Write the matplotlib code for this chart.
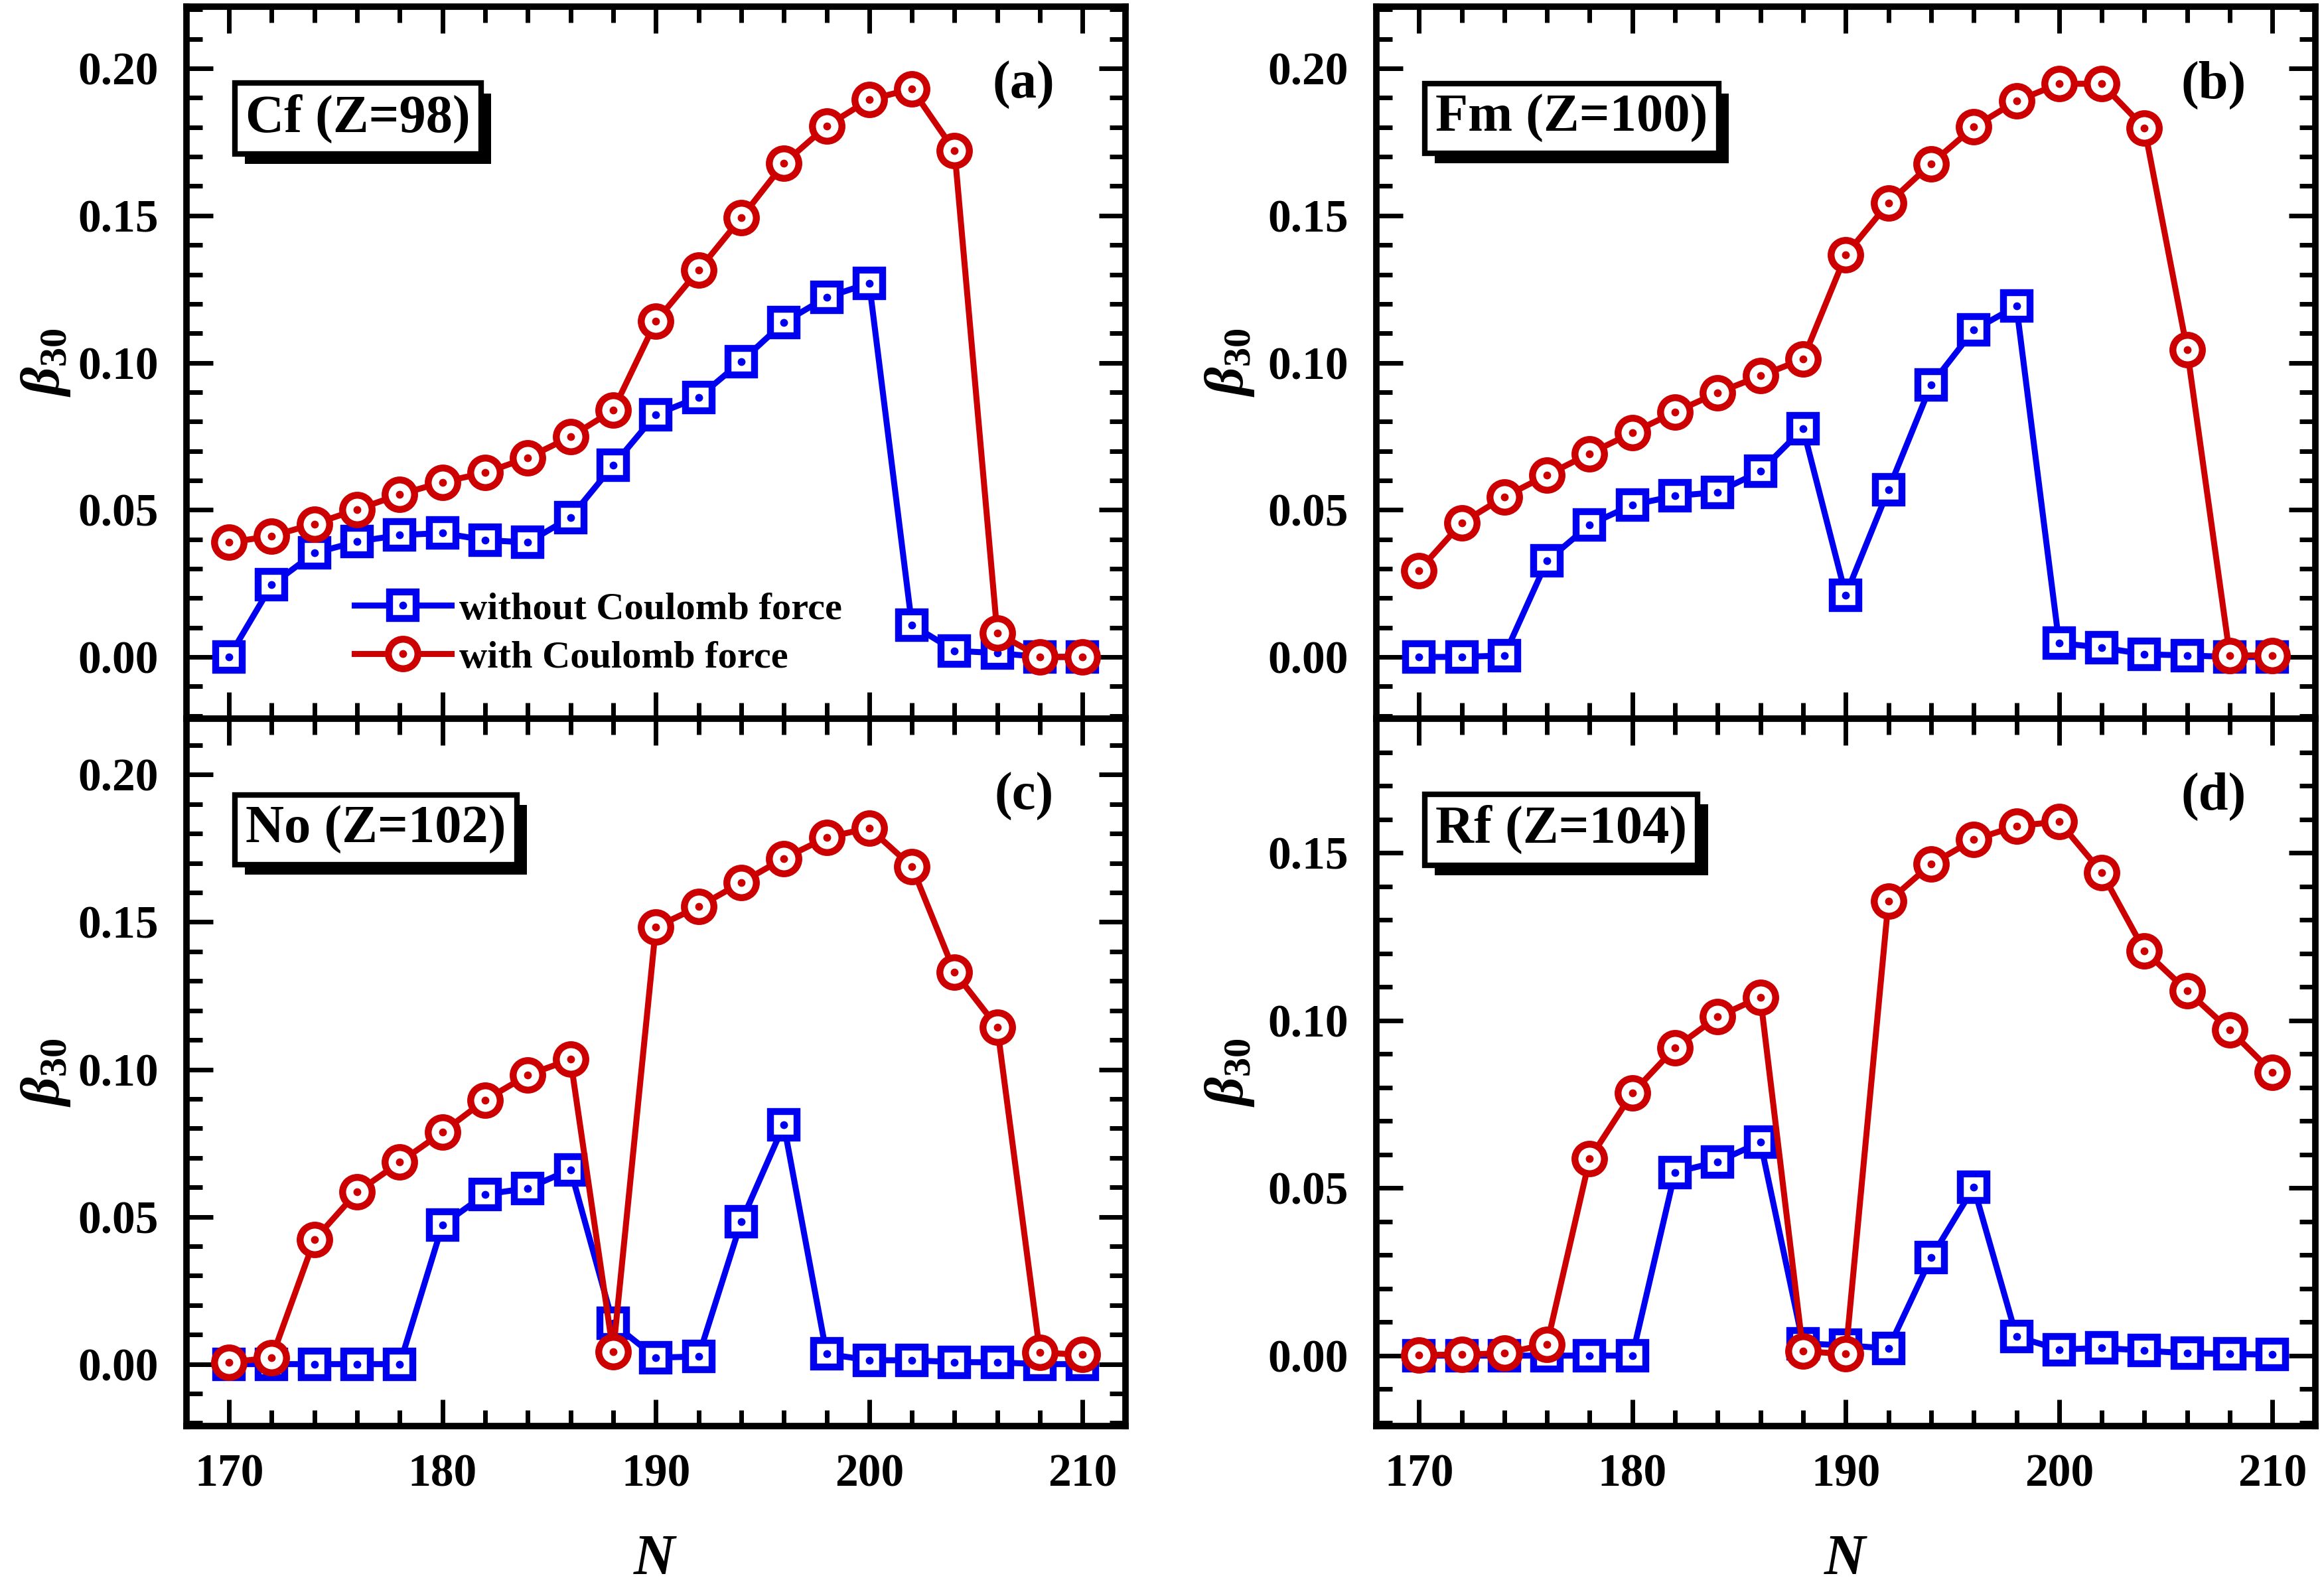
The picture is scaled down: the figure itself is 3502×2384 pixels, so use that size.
import matplotlib
matplotlib.use('Agg')
import matplotlib.pyplot as plt
from matplotlib.ticker import MultipleLocator, FormatStrFormatter
from matplotlib.legend_handler import HandlerTuple
import matplotlib.patheffects as pe

# ---------------- data ----------------
N = [170, 172, 174, 176, 178, 180, 182, 184, 186, 188, 190,
     192, 194, 196, 198, 200, 202, 204, 206, 208, 210]

cf_without = [0.000, 0.0245, 0.0353, 0.0392, 0.0414, 0.0421, 0.0397, 0.0389, 0.0474, 0.0651, 0.0824,
              0.0882, 0.1004, 0.1137, 0.1222, 0.1270, 0.0109, 0.0021, 0.0013, 0.0000, 0.0000]
cf_with = [0.0389, 0.0411, 0.0452, 0.0501, 0.0552, 0.0594, 0.0626, 0.0677, 0.0748, 0.0838, 0.1140,
           0.1314, 0.1492, 0.1677, 0.1804, 0.1894, 0.1930, 0.1720, 0.0081, 0.0000, 0.0000]

fm_without = [0.000, 0.000, 0.0005, 0.0326, 0.0449, 0.0517, 0.0547, 0.0560, 0.0631, 0.0776, 0.0210,
              0.0568, 0.0925, 0.1111, 0.1192, 0.0047, 0.0032, 0.0009, 0.0005, 0.0000, 0.0000]
fm_with = [0.0294, 0.0455, 0.0544, 0.0618, 0.0691, 0.0762, 0.0832, 0.0898, 0.0955, 0.1012, 0.1366,
           0.1542, 0.1676, 0.1801, 0.1889, 0.1948, 0.1948, 0.1798, 0.1044, 0.0005, 0.0005]

no_without = [0.000, 0.000, 0.000, 0.000, 0.000, 0.0472, 0.0576, 0.0597, 0.0660, 0.0138, 0.0022,
              0.0026, 0.0483, 0.0812, 0.0035, 0.0013, 0.0013, 0.0007, 0.0006, 0.0000, 0.0000]
no_with = [0.0006, 0.0022, 0.0422, 0.0584, 0.0685, 0.0787, 0.0896, 0.0981, 0.1034, 0.0041, 0.1483,
           0.1552, 0.1634, 0.1716, 0.1787, 0.1819, 0.1688, 0.1330, 0.1144, 0.0039, 0.0032]

rf_without = [0.000, 0.000, 0.000, 0.000, 0.000, 0.000, 0.0547, 0.0578, 0.0637, 0.0036, 0.0031,
              0.0021, 0.0292, 0.0502, 0.0057, 0.0018, 0.0023, 0.0015, 0.0007, 0.0005, 0.0003]
rf_with = [0.0002, 0.0003, 0.0007, 0.0034, 0.0587, 0.0783, 0.0918, 0.1011, 0.1069, 0.0013, 0.0005,
           0.1355, 0.1466, 0.1539, 0.1580, 0.1593, 0.1441, 0.1208, 0.1088, 0.0971, 0.0845]

nuclei = ['Cf (Z=98)', 'Fm (Z=100)', 'No (Z=102)', 'Rf (Z=104)']
panel_tags = ['(a)', '(b)', '(c)', '(d)']
legend_labels = ['without Coulomb force', 'with Coulomb force']
x_ticks = [170, 180, 190, 200, 210]

# ---------------- style ----------------
plt.rcParams['font.family'] = ['Liberation Serif', 'DejaVu Serif']
plt.rcParams['font.weight'] = 'bold'
plt.rcParams['mathtext.fontset'] = 'custom'
plt.rcParams['mathtext.rm'] = 'Liberation Serif:bold'
plt.rcParams['mathtext.it'] = 'Liberation Serif:italic:bold'
plt.rcParams['mathtext.bf'] = 'Liberation Serif:bold'

BLUE = '#0000F0'
RED = '#CC0000'

fig = plt.figure(figsize=(35.02, 23.84), dpi=100)

lefts = [0.0802, 0.5922]
width = 0.4040
positions = [
    [lefts[0], 0.5457, width, 0.4501],
    [lefts[1], 0.5457, width, 0.4501],
    [lefts[0], 0.0986, width, 0.4471],
    [lefts[1], 0.0986, width, 0.4471],
]
ylims = [(-0.021, 0.221), (-0.021, 0.221), (-0.021, 0.219), (-0.021, 0.190)]
series = [(cf_without, cf_with), (fm_without, fm_with),
          (no_without, no_with), (rf_without, rf_with)]

for i in range(4):
    ax = fig.add_axes(positions[i])
    wo, wi = series[i]
    lb, = ax.plot(N, wo, color=BLUE, lw=6.5, marker='s', ms=29, mfc='white',
                  mec=BLUE, mew=7.5, zorder=3)
    db, = ax.plot(N, wo, ls='none', marker='o', ms=8.5, mfc=BLUE, mec=BLUE,
                  mew=0, zorder=3.1)
    lr, = ax.plot(N, wi, color=RED, lw=6.5, marker='o', ms=32, mfc='white',
                  mec=RED, mew=7.5, zorder=4)
    dr, = ax.plot(N, wi, ls='none', marker='o', ms=8.5, mfc=RED, mec=RED,
                  mew=0, zorder=4.1)

    ax.set_xlim(168, 212)
    ax.set_ylim(*ylims[i])
    ax.set_xticks(x_ticks)
    ax.xaxis.set_minor_locator(MultipleLocator(2))
    ax.yaxis.set_major_locator(MultipleLocator(0.05))
    ax.yaxis.set_minor_locator(MultipleLocator(0.01))
    ax.yaxis.set_major_formatter(FormatStrFormatter('%.2f'))
    ax.tick_params(which='both', direction='in', top=True, right=True,
                   width=5, labelsize=50, pad=30)
    ax.tick_params(which='major', length=29)
    ax.tick_params(which='minor', length=17)
    for sp in ax.spines.values():
        sp.set_linewidth(7)

    if i < 2:
        ax.tick_params(labelbottom=False)
    else:
        ax.set_xlabel(r'$N$', fontsize=62)
        ax.xaxis.set_label_coords(0.5, -0.19)
        ax.xaxis.label.set_va('center')

    ax.set_ylabel(r'$\beta_{\mathbf{30}}$', fontsize=60)
    ax.yaxis.set_label_coords(-0.150 if i % 2 == 0 else -0.156, 0.5)
    ax.yaxis.label.set_va('center')

    t = ax.text(0.063, 0.843, nuclei[i], transform=ax.transAxes, fontsize=58,
                ha='left', va='center', zorder=10,
                bbox=dict(boxstyle='square,pad=0.2', fc='white', ec='black', lw=6))
    t.get_bbox_patch().set_path_effects([
        pe.SimplePatchShadow(offset=(11, -11), shadow_rgbFace='black', alpha=1.0),
        pe.Normal()])

    ax.text(0.892, 0.89, panel_tags[i], transform=ax.transAxes, fontsize=58,
            ha='center', va='center', zorder=10)

    if i == 0:
        ax.legend([(lb, db), (lr, dr)], legend_labels,
                  handler_map={tuple: HandlerTuple(ndivide=1)},
                  loc='center left', bbox_to_anchor=(0.179, 0.1195),
                  frameon=False, borderpad=0, borderaxespad=0,
                  handlelength=2.5, handletextpad=0.2, labelspacing=0.34,
                  fontsize=42)

fig.savefig('out.png', dpi=100)
